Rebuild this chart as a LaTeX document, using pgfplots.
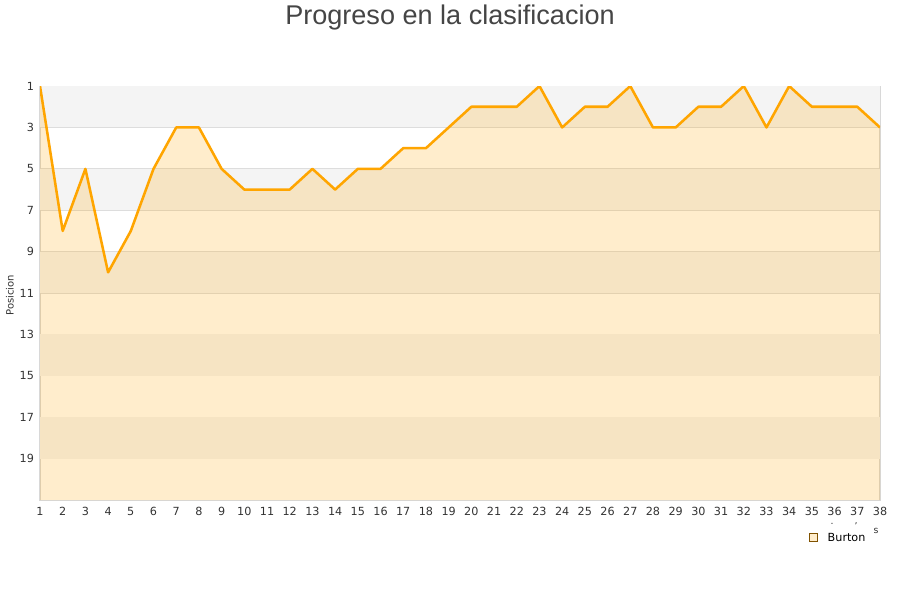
\documentclass[border=0pt]{standalone}
\usepackage{pgfplots}
\pgfplotsset{compat=1.18}
\usepackage{fontspec}
\setmainfont{DejaVu Sans}
\newfontfamily\titlefont{Liberation Sans}
\definecolor{lineor}{HTML}{FFA500}
\definecolor{bandgray}{HTML}{F4F4F4}
\definecolor{gridc}{HTML}{DDDDDD}
\definecolor{framec}{HTML}{D8D8D8}
\definecolor{txt}{HTML}{333333}
\begin{document}
\begin{tikzpicture}[x=0.75pt,y=0.75pt]
\fill[white] (0,0) rectangle (900,600);
\begin{axis}[
  at={(40*0.75pt,102*0.75pt)}, anchor=south west,
  scale only axis, width=630pt, height=310.5pt,
  xmin=1, xmax=38, ymin=1, ymax=21, y dir=reverse,
  xtick={1,...,38}, ytick={1,3,...,19},
  major tick length=0pt,
  /pgf/number format/assume math mode=true,
  axis line style={framec, line width=0.8pt},
  ymajorgrids, grid style={gridc, line width=0.6pt},
  tick label style={font=\fontsize{8.4}{10}\selectfont, text=txt},
  xticklabel style={yshift=-2pt},
  yticklabel style={xshift=-1pt},
  clip=true,
]
\fill[bandgray] (axis cs:1,1) rectangle (axis cs:38,3);
\fill[bandgray] (axis cs:1,5) rectangle (axis cs:38,7);
\fill[bandgray] (axis cs:1,9) rectangle (axis cs:38,11);
\fill[bandgray] (axis cs:1,13) rectangle (axis cs:38,15);
\fill[bandgray] (axis cs:1,17) rectangle (axis cs:38,19);
\addplot[draw=none, fill=lineor, fill opacity=0.2] coordinates {
(1,1) (2,8) (3,5) (4,10) (5,8) (6,5) (7,3) (8,3) (9,5) (10,6)
(11,6) (12,6) (13,5) (14,6) (15,5) (16,5) (17,4) (18,4) (19,3) (20,2)
(21,2) (22,2) (23,1) (24,3) (25,2) (26,2) (27,1) (28,3) (29,3) (30,2)
(31,2) (32,1) (33,3) (34,1) (35,2) (36,2) (37,2) (38,3) (38,21) (1,21)} --cycle;
\addplot[lineor, line width=1.9pt, line join=round] coordinates {
(1,1) (2,8) (3,5) (4,10) (5,8) (6,5) (7,3) (8,3) (9,5) (10,6)
(11,6) (12,6) (13,5) (14,6) (15,5) (16,5) (17,4) (18,4) (19,3) (20,2)
(21,2) (22,2) (23,1) (24,3) (25,2) (26,2) (27,1) (28,3) (29,3) (30,2)
(31,2) (32,1) (33,3) (34,1) (35,2) (36,2) (37,2) (38,3)};
\end{axis}
\node[font=\fontsize{7.5}{9}\selectfont, text=txt, rotate=90] at (10,600-293) {Posicion};
\node[font=\titlefont\fontsize{20.3}{24}\selectfont, text=black!73] at (450,600-15) {Progreso en la clasificacion};
\fill[lineor!20, draw=black!50!lineor, line width=0.5pt] (809,600-539) rectangle (817,600-531);
\node[font=\fontsize{8.4}{10}\selectfont, text=black, anchor=west] at (823,600-535) {Burton};
\node[font=\fontsize{7}{8}\selectfont, text=txt] at (876,600-529) {s};
\node[font=\fontsize{7}{8}\selectfont, text=txt] at (832,600-522) {.};
\node[font=\fontsize{7}{8}\selectfont, text=txt] at (856,600-524) {'};
\end{tikzpicture}
\end{document}
